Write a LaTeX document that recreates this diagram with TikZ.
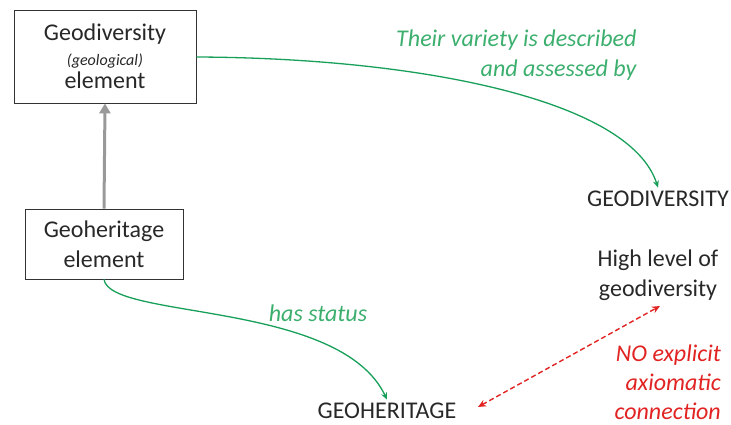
\documentclass[tikz,border=0pt]{standalone}
\usepackage{fontspec}
\setmainfont{Carlito}
\usetikzlibrary{arrows.meta}
\definecolor{linkgreen}{RGB}{24,160,90}
\definecolor{labelgreen}{RGB}{60,175,110}
\definecolor{warnred}{RGB}{225,35,35}
\definecolor{txtgray}{RGB}{40,40,40}
\tikzset{
  box/.style={draw=black!80, line width=0.8pt, fill=white, text=txtgray, align=center, inner sep=0pt},
  term/.style={text=txtgray, align=center, font=\fontsize{24}{30}\selectfont},
  rel/.style={draw=linkgreen, line width=1.3pt, -{Stealth[length=7pt,width=6pt]}},
  rellabel/.style={text=labelgreen, font=\fontsize{24}{30}\selectfont\itshape},
  nolink/.style={draw=warnred, line width=1.4pt, dash pattern=on 5pt off 3pt, {Stealth[length=8pt,width=7pt]}-{Stealth[length=8pt,width=7pt]}},
}
\begin{document}
\begin{tikzpicture}[x=1pt,y=-1pt]
\useasboundingbox (0,0) rectangle (731,425);
% boxes
\node[box, minimum width=182pt, minimum height=93pt, font=\fontsize{24}{24}\selectfont] (gde) at (105,56.5)
  {Geodiversity\\[1pt]{\fontsize{16}{16}\selectfont\itshape (geological)}\\[-1pt]element};
\node[box, minimum width=158pt, minimum height=70pt, font=\fontsize{24}{30}\selectfont] (ghe) at (104,244)
  {Geoheritage\\element};
% terms
\node[term] (gdiv) at (658,199) {GEODIVERSITY};
\node[term] (high) at (658,275) {High level of\\geodiversity};
\node[term] (gher) at (387,411) {GEOHERITAGE};
% connectors
\draw[draw=black!40, line width=3pt, -{Triangle[length=10pt,width=11pt]}] (ghe.north) -- (gde.south);
\draw[rel] (gde.east |- 0,57) .. controls (420,58) and (630,100) .. (gdiv.north);
\draw[rel] (ghe.south) .. controls (110,320) and (340,300) .. (gher.north);
\coordinate (hs) at (660,306);
\coordinate (gs) at (478,407);
\draw[nolink] (gs) -- (hs);
% labels
\node[rellabel, anchor=east, align=right] (lab1) at (640,55) {Their variety is described\\and assessed by};
\node[rellabel] (lab2) at (318,313) {has status};
\node[text=warnred, font=\fontsize{24}{29}\selectfont\itshape, anchor=east, align=right, inner sep=1pt] (lab3) at (722,382)
  {NO explicit\\axiomatic\\connection};
\end{tikzpicture}
\end{document}
